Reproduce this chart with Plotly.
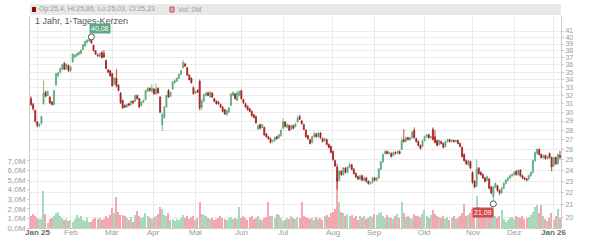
import math
import plotly.graph_objects as go

# ---- data ----
opens = [31.6,30.9,30.2,28.9,28.5,28.7,31.0,32.4,32.0,31.8,31.2,30.9,33.3,34.5,35.0,35.4,36.2,35.4,35.9,35.2,
36.4,37.1,37.3,37.5,37.6,38.2,38.7,39.3,39.5,39.9,38.8,38.0,37.4,37.2,37.8,37.6,36.6,35.3,35.2,34.8,
33.4,34.2,33.3,32.3,31.4,30.8,30.6,31.0,30.9,31.3,31.3,32.0,31.6,30.8,31.2,31.5,32.5,32.9,32.5,32.8,
32.2,32.9,31.8,28.6,29.4,30.6,32.6,31.9,32.8,33.6,33.8,34.2,34.7,35.6,36.1,35.6,34.6,34.2,33.0,32.3,
32.6,33.8,30.6,31.3,32.0,32.3,31.8,32.3,31.6,31.3,31.2,30.9,30.6,30.3,29.7,30.0,30.8,32.0,32.2,31.4,
32.0,32.6,31.5,31.0,30.7,30.4,30.1,29.7,29.5,28.1,28.6,28.3,28.3,27.6,27.3,27.1,26.8,26.9,27.3,27.2,
27.4,28.2,28.9,28.3,28.5,28.1,28.5,28.4,28.9,29.5,29.0,28.6,28.0,27.4,27.0,26.7,27.3,27.6,27.3,27.7,
27.1,26.9,27.0,26.5,26.3,25.8,24.9,24.3,23.1,23.9,23.6,24.2,23.8,24.3,24.5,24.1,23.7,23.4,23.2,23.5,
23.1,23.3,23.0,22.8,22.9,23.3,23.1,23.3,24.1,24.8,25.6,25.8,25.6,25.6,25.4,25.7,25.6,25.8,26.0,27.0,
26.8,27.2,27.0,27.2,28.0,27.1,26.8,26.4,26.3,26.9,27.3,27.5,27.2,28.1,27.3,26.9,26.5,26.8,26.6,26.3,
26.8,27.0,26.8,26.9,26.8,26.9,26.6,26.2,25.5,24.9,24.5,24.8,23.8,23.0,22.6,24.2,23.8,23.6,23.3,23.1,
23.2,22.5,21.7,22.5,22.6,22.2,22.0,22.4,22.8,23.1,23.3,23.5,23.6,23.9,23.6,24.0,23.5,23.3,23.2,23.2,
23.5,23.8,24.9,25.6,26.0,25.5,25.2,25.4,25.1,25.6,25.2,24.4,25.2,24.6,25.4]
highs = [31.9,31.1,30.3,29.0,28.8,29.6,33.9,32.6,32.6,31.9,31.3,32.7,34.9,35.0,35.6,36.1,36.4,36.2,36.0,35.9,
37.6,37.5,37.7,37.9,38.2,39.0,39.5,39.7,39.95,40.08,38.9,38.1,37.6,37.7,37.9,38.1,36.7,35.4,35.3,34.9,
34.3,35.4,33.4,32.4,31.5,30.9,31.0,31.1,31.4,31.4,32.1,32.1,31.7,31.3,31.5,32.7,33.0,33.0,33.4,32.9,
33.5,33.0,31.9,29.9,30.7,32.1,32.8,32.5,33.8,34.0,34.3,34.8,35.3,36.7,36.3,35.7,34.7,34.3,33.1,32.6,
32.8,34.0,31.6,32.2,32.4,32.5,32.5,32.4,31.7,31.4,31.3,31.0,30.7,30.4,30.3,30.6,32.3,32.5,32.3,32.6,
32.6,32.7,31.6,31.1,30.8,30.5,30.2,29.8,29.6,28.6,28.7,28.7,28.4,27.7,27.4,27.2,27.0,27.3,27.4,27.6,
28.1,29.3,29.0,28.7,28.6,28.6,28.6,28.8,29.6,29.7,29.1,28.7,28.1,27.5,27.1,27.4,27.8,27.7,27.8,27.8,
27.2,27.2,27.1,26.6,26.4,25.9,25.0,24.6,24.0,24.0,24.3,24.3,24.4,24.7,24.6,24.2,23.8,23.5,23.6,23.6,
23.4,23.4,23.1,23.0,23.4,23.4,23.4,24.2,24.9,25.6,25.9,25.9,25.8,25.7,25.8,25.8,25.9,25.9,27.2,28.1,
27.3,27.3,27.3,27.9,28.3,27.2,26.9,26.5,27.0,27.4,27.6,27.6,27.4,28.3,28.0,27.0,27.0,26.9,26.7,26.9,
27.1,27.1,27.0,27.0,27.0,27.0,26.7,26.3,25.6,25.0,25.0,24.9,23.9,23.1,25.0,24.3,23.9,23.7,23.4,23.5,
23.3,22.6,22.6,22.9,22.7,22.3,22.5,22.9,23.2,23.4,23.6,23.7,23.9,24.0,24.1,24.1,23.6,23.4,23.3,23.6,
23.9,25.0,25.8,26.1,26.1,25.6,25.5,25.5,25.4,25.7,25.3,25.3,25.3,25.6,25.86]
lows = [30.7,30.2,28.8,28.3,28.3,28.6,30.9,31.8,31.9,31.0,30.8,30.8,33.2,34.3,34.8,35.2,35.3,35.3,35.0,35.0,
36.3,36.9,37.1,37.3,37.5,38.1,38.6,39.1,39.3,39.0,37.9,37.4,37.1,37.1,36.9,37.0,35.4,34.9,34.4,33.1,
33.3,33.0,32.5,31.0,30.4,30.5,30.5,30.7,30.8,31.0,31.2,31.5,30.5,30.7,31.1,31.4,32.4,32.5,32.4,32.1,
32.1,32.2,29.9,27.9,29.3,30.5,31.7,31.8,32.7,33.5,33.7,34.1,34.6,35.5,35.7,34.5,33.9,33.5,32.1,32.2,
32.3,30.2,30.2,31.2,31.9,31.9,31.7,31.7,31.2,30.9,30.9,30.5,30.0,29.7,29.6,29.9,30.7,31.9,31.5,31.3,
31.9,31.5,31.0,30.5,30.2,30.0,29.5,29.3,28.7,28.0,28.1,28.2,27.4,27.2,27.0,26.6,26.7,26.8,27.0,27.1,
27.3,28.1,28.3,28.2,27.9,28.0,28.1,28.3,28.8,29.1,28.6,28.0,27.2,27.0,26.5,26.6,27.2,27.2,27.2,27.1,
26.7,26.8,26.4,26.1,25.6,24.9,24.3,22.3,23.0,23.5,23.5,23.7,23.7,24.2,24.0,23.6,23.3,23.1,23.1,23.0,
23.0,22.9,22.7,22.7,22.8,23.0,23.0,23.2,24.0,24.7,25.5,25.5,25.5,25.2,25.3,25.5,25.5,25.5,25.9,26.7,
26.7,26.9,26.9,27.1,27.1,26.7,26.3,26.0,26.2,26.8,27.2,27.1,27.1,26.9,26.6,26.3,26.4,26.5,26.1,26.2,
26.7,26.7,26.7,26.7,26.7,26.5,26.2,25.2,24.8,24.5,24.4,24.1,22.8,22.4,22.5,23.6,23.5,23.2,22.9,23.0,
22.3,21.9,21.09,22.4,22.1,21.8,21.9,22.3,22.7,23.0,23.2,23.4,23.5,23.5,23.5,23.4,23.2,23.1,23.0,23.1,
23.4,23.7,24.8,25.5,25.4,25.1,25.1,25.0,25.0,25.1,23.9,24.3,24.5,24.5,25.03]
closes = [30.9,30.4,29.0,28.5,28.6,29.5,32.3,31.9,32.5,31.1,30.9,32.6,34.8,34.9,35.5,36.0,35.4,36.1,35.2,35.7,
37.5,37.4,37.6,37.8,38.1,38.9,39.4,39.6,39.85,39.2,38.0,37.5,37.3,37.6,37.0,37.1,35.5,35.0,34.5,33.2,
34.2,33.2,32.6,31.1,30.5,30.6,30.9,30.8,31.3,31.1,32.0,31.6,30.6,31.2,31.4,32.6,32.9,32.6,32.9,32.2,
32.8,32.3,30.0,29.7,30.6,32.0,31.8,32.4,33.7,33.9,34.2,34.7,35.2,36.3,35.8,34.6,34.0,33.6,32.2,32.5,
32.4,30.5,31.3,32.1,32.3,32.0,32.4,31.8,31.3,31.0,31.0,30.6,30.1,29.8,30.2,30.5,32.2,32.4,31.6,32.3,
32.5,31.6,31.1,30.6,30.3,30.1,29.6,29.4,28.8,28.5,28.2,28.6,27.5,27.3,27.1,26.7,26.9,27.2,27.1,27.5,
28.0,28.9,28.4,28.6,28.0,28.5,28.2,28.7,29.3,29.2,28.7,28.1,27.3,27.1,26.6,27.3,27.6,27.3,27.7,27.2,
26.8,27.1,26.5,26.2,25.7,25.0,24.4,23.0,23.9,23.6,24.2,23.8,24.3,24.5,24.1,23.7,23.4,23.2,23.5,23.1,
23.3,23.0,22.8,22.9,23.3,23.1,23.3,24.1,24.8,25.5,25.8,25.6,25.7,25.3,25.7,25.6,25.8,25.6,26.9,26.8,
27.2,27.0,27.2,27.8,27.2,26.8,26.4,26.1,26.9,27.3,27.5,27.2,27.3,27.0,26.7,26.4,26.9,26.6,26.2,26.8,
27.0,26.8,26.9,26.8,26.9,26.6,26.3,25.3,24.9,24.6,24.9,24.2,22.9,22.5,24.1,23.7,23.6,23.3,23.0,23.4,
22.4,22.0,22.5,22.8,22.2,22.0,22.4,22.8,23.1,23.3,23.5,23.6,23.8,23.6,24.0,23.5,23.3,23.2,23.1,23.5,
23.8,24.9,25.7,26.0,25.5,25.2,25.4,25.1,25.3,25.2,24.3,25.2,24.6,25.5,25.23]
volumes = [1.3,1.5,1.2,1.0,0.9,0.9,3.9,1.5,0.5,0.9,1.0,1.2,1.6,1.7,1.3,1.0,0.8,0.9,0.7,0.8,
0.6,0.9,1.4,1.0,1.2,0.8,0.7,1.0,0.6,0.6,0.9,1.0,0.9,1.0,0.8,0.9,1.3,1.0,1.4,2.1,
1.6,3.2,1.7,1.4,1.4,1.2,1.0,0.8,1.1,0.6,1.4,1.8,1.2,1.0,1.1,1.6,1.3,1.0,0.9,1.1,
1.2,1.5,2.2,2.0,1.4,1.2,1.6,0.8,0.9,0.7,0.9,0.8,1.0,1.4,1.0,1.3,0.9,1.1,1.3,0.8,
1.0,2.7,1.5,1.4,1.2,1.0,0.9,1.0,0.8,0.9,1.0,1.2,1.0,0.9,0.8,1.0,1.1,0.9,1.0,0.9,
2.2,1.0,1.2,1.0,0.8,1.1,1.2,0.9,1.0,1.2,0.9,0.8,1.0,1.1,2.7,1.3,1.2,1.0,1.5,1.4,
1.0,0.7,0.8,1.0,0.9,1.2,1.0,0.9,1.1,1.0,2.7,1.2,1.1,1.0,0.9,1.0,0.8,1.1,0.9,1.0,
0.8,1.2,1.4,1.1,1.6,1.7,2.0,5.3,2.7,1.7,1.6,1.3,1.5,1.2,1.4,1.0,1.2,0.8,1.3,1.0,
1.2,0.9,1.0,1.3,1.1,1.5,1.4,1.6,1.7,1.2,1.0,1.4,1.1,1.0,0.9,1.3,1.5,1.0,2.7,1.6,
1.1,1.3,1.0,0.9,1.5,1.2,1.3,1.1,1.5,1.9,1.2,1.0,1.4,1.9,1.5,1.3,1.1,1.0,1.2,0.9,
1.1,0.8,1.0,1.2,0.9,1.0,1.3,1.6,2.5,1.2,1.4,1.6,2.0,1.9,3.3,2.2,1.7,1.6,1.4,1.3,
1.8,1.6,1.9,1.2,1.0,1.3,1.9,0.9,0.6,0.8,1.0,1.1,0.9,1.3,1.1,1.0,1.2,0.9,1.0,1.1,
1.4,1.7,2.2,2.4,1.6,2.4,1.2,0.9,0.7,1.0,1.6,0.8,1.3,2.0,1.0]

month_labels = ["Jan 25", "Feb", "Mär", "Apr", "Mai", "Jun", "Jul", "Aug",
                "Sep", "Okt", "Nov", "Dez", "Jan 26"]
month_start_idx = [3, 19, 39, 59, 79, 101, 121, 145, 165, 189, 212, 232, 251]
price_ticks = list(range(20, 42))
vol_ticks = [0, 1, 2, 3, 4, 5, 6, 7]
vol_labels = ["0,0M", "1,0M", "2,0M", "3,0M", "4,0M", "5,0M", "6,0M", "7,0M"]
hi_idx, hi_val = 29, 40.08
lo_idx, lo_val = 222, 21.09
header_text = "Op:25,4, Hi:25,86, Lo:25,03, Cl:25,23"
vol_text = "Vol: 0M"
title_text = "1 Jahr, 1-Tages-Kerzen"

# ---- styling ----
UP = "#5aa97f"
DOWN = "#a51d1d"
VUP = "#a9d9bd"
VDOWN = "#f2a7b1"
GRID = "#ebebeb"
AX = "#cccccc"
TXT = "#9a9a9a"

idx = list(range(len(closes)))
vcolors = [VUP if c >= o else VDOWN for o, c in zip(opens, closes)]

W, H = 600, 240
L, R, T, B = 30, 39, 16, 12
ph = H - T - B
pw = W - L - R

def py(px_y):
    return (H - B - px_y) / ph

def px(px_x):
    return (px_x - L) / pw

fig = go.Figure()
fig.add_trace(go.Bar(x=idx, y=volumes, marker=dict(color=vcolors, line=dict(width=0)),
                     width=0.62, yaxis="y", hoverinfo="skip", showlegend=False))
fig.add_trace(go.Candlestick(x=idx, open=opens, high=highs, low=lows, close=closes,
                             increasing=dict(line=dict(color=UP, width=0.8), fillcolor=UP),
                             decreasing=dict(line=dict(color=DOWN, width=0.8), fillcolor=DOWN),
                             whiskerwidth=0, yaxis="y2", showlegend=False, hoverinfo="skip"))
fig.add_trace(go.Scatter(x=[hi_idx, lo_idx], y=[hi_val, lo_val], mode="markers", yaxis="y2",
                         marker=dict(size=6, color="white", line=dict(color="#555", width=1)),
                         showlegend=False, hoverinfo="skip"))

lo_r = math.log10(41 * math.exp((31 - (H - B)) / 260.0))
hi_r = math.log10(41 * math.exp((31 - T) / 260.0))

annotations = [
    dict(xref="paper", yref="paper", x=px(37), y=py(9.5), xanchor="left", yanchor="middle",
         text=header_text, showarrow=False, font=dict(size=7, color=TXT)),
    dict(xref="paper", yref="paper", x=px(176), y=py(9.5), xanchor="left", yanchor="middle",
         text=vol_text, showarrow=False, font=dict(size=7, color=TXT)),
    dict(xref="paper", yref="paper", x=px(33), y=py(20.5), xanchor="left", yanchor="middle",
         text=title_text, showarrow=False, font=dict(size=9, color="#555")),
    dict(x=hi_idx, y=math.log10(hi_val), xref="x", yref="y2", text="40,08", showarrow=False,
         xanchor="left", yanchor="bottom", xshift=-2, yshift=3, bgcolor=UP, borderpad=1,
         font=dict(size=7, color="white")),
    dict(x=lo_idx, y=math.log10(lo_val), xref="x", yref="y2", text="21,09", showarrow=False,
         xanchor="right", yanchor="top", xshift=1, yshift=-3, bgcolor="#d24a4a", borderpad=1,
         font=dict(size=7, color="white")),
]
for k, (lab, i) in enumerate(zip(month_labels, month_start_idx)):
    edge = lab.startswith("Jan")
    annotations.append(dict(
        x=i, xref="x", y=py(232.5), yref="paper", xanchor="center", yanchor="middle",
        text=f"<b>{lab}</b>" if edge else lab, showarrow=False,
        font=dict(size=8, color="#666" if edge else TXT)))

fig.update_layout(
    width=W, height=H, margin=dict(l=L, r=R, t=T, b=B, autoexpand=False),
    paper_bgcolor="white", plot_bgcolor="white",
    font=dict(family="Liberation Sans, Arial, sans-serif", size=8, color=TXT),
    bargap=0,
    xaxis=dict(range=[-0.5, len(closes) - 0.5], tickvals=month_start_idx, showticklabels=False,
               showgrid=True, gridcolor=GRID, gridwidth=1, zeroline=False, ticks="",
               showline=True, linecolor=AX, linewidth=1, mirror=False, automargin=False,
               rangeslider=dict(visible=False)),
    yaxis=dict(range=[0, ph / 9.6], tickvals=vol_ticks, ticktext=vol_labels, side="left",
               showgrid=False, zeroline=False, ticks="outside", ticklen=2, tickcolor=AX,
               showline=True, linecolor=AX, automargin=False, tickfont=dict(size=8, color=TXT)),
    yaxis2=dict(overlaying="y", side="right", type="log", range=[lo_r, hi_r],
                tickvals=price_ticks, ticktext=[str(v) for v in price_ticks],
                showgrid=True, gridcolor=GRID, zeroline=False, ticks="outside", ticklen=2,
                tickcolor=AX, showline=True, linecolor=AX, automargin=False,
                tickfont=dict(size=7, color=TXT)),
    shapes=[
        dict(type="rect", xref="paper", yref="paper", x0=0, x1=1, y0=py(15), y1=py(4),
             fillcolor="#e8e8e8", line=dict(width=0), layer="below"),
        dict(type="rect", xref="paper", yref="paper", x0=px(32), x1=px(36), y0=py(12), y1=py(7),
             fillcolor="#8b0e0e", line=dict(width=0)),
        dict(type="rect", xref="paper", yref="paper", x0=px(170), x1=px(174), y0=py(12), y1=py(7),
             fillcolor=VDOWN, line=dict(width=1, color="#c0505a")),
    ],
    annotations=annotations,
)

fig.write_html("out.html")
